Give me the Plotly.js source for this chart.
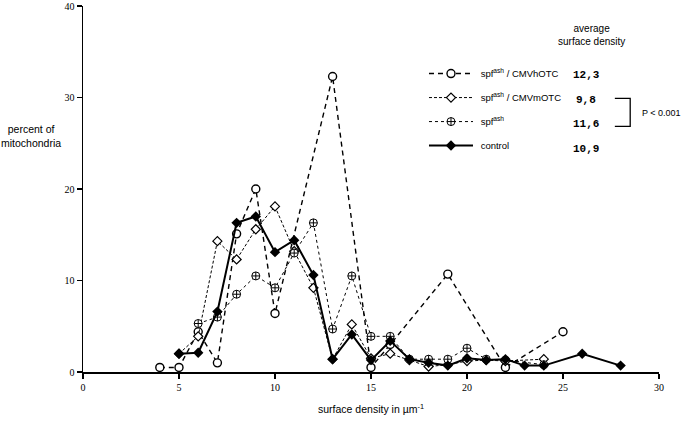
<!DOCTYPE html>
<html>
<head>
<meta charset="utf-8">
<script src="https://cdn.plot.ly/plotly-3.0.1.min.js"></script>
<style>
  body { margin: 0; background: #fff; }
  #chart { width: 685px; height: 421px; }
</style>
</head>
<body>
<div id="chart"></div>
<script>
// spf-ash / CMVhOTC
var hotcX = [4, 5, 6, 7, 8, 9, 10, 13, 15, 16, 19, 22, 25];
var hotcY = [0.5, 0.5, 4.4, 1.0, 15.1, 20.0, 6.4, 32.3, 0.5, 3.0, 10.7, 0.5, 4.4];

// spf-ash / CMVmOTC
var motcX = [5, 6, 7, 8, 9, 10, 11, 12, 13, 14, 15, 16, 17, 18, 19, 20, 21, 22, 24];
var motcY = [2.0, 3.9, 14.3, 12.3, 15.6, 18.1, 13.2, 9.2, 1.4, 5.2, 1.5, 2.0, 1.3, 0.6, 0.8, 1.2, 1.3, 1.2, 1.4];

// spf-ash
var spfX = [6, 7, 8, 9, 10, 11, 12, 13, 14, 15, 16, 17, 18, 19, 20, 21, 22, 24];
var spfY = [5.3, 6.0, 8.5, 10.5, 9.2, 13.0, 16.3, 4.7, 10.5, 3.9, 3.9, 1.4, 1.4, 1.4, 2.6, 1.4, 1.3, 0.8];

// control
var ctrlX = [5, 6, 7, 8, 9, 10, 11, 12, 13, 14, 15, 16, 17, 18, 19, 20, 21, 22, 23, 24, 26, 28];
var ctrlY = [2.0, 2.1, 6.6, 16.3, 17.0, 13.1, 14.4, 10.6, 1.4, 4.1, 1.3, 3.4, 1.4, 1.0, 0.7, 1.5, 1.3, 1.4, 0.7, 0.7, 2.0, 0.7];

var seriesNames = [
  'spf<sup>ash</sup> / CMVhOTC',
  'spf<sup>ash</sup> / CMVmOTC',
  'spf<sup>ash</sup>',
  'control'
];
var averages = ['12,3', '9,8', '11,6', '10,9'];

var trace1 = {
  x: hotcX, y: hotcY,
  mode: 'lines+markers', type: 'scatter',
  name: '&nbsp;' + seriesNames[0], legendgroup: 'a',
  line: { color: 'black', width: 1.4, dash: '5px,4px' },
  marker: { symbol: 'circle', size: 8, color: 'white', line: { color: 'black', width: 1.4 } }
};

var trace2 = {
  x: motcX, y: motcY,
  mode: 'lines+markers', type: 'scatter',
  name: '&nbsp;' + seriesNames[1], legendgroup: 'b',
  line: { color: 'black', width: 1, dash: '3px,2px' },
  marker: { symbol: 'diamond', size: 7, color: 'white', line: { color: 'black', width: 1.2 } }
};

var trace3 = {
  x: spfX, y: spfY,
  mode: 'lines+markers', type: 'scatter',
  name: '&nbsp;' + seriesNames[2], legendgroup: 'c',
  line: { color: 'black', width: 1, dash: 'dot' },
  marker: { symbol: 'circle-cross', size: 8, color: 'white', line: { color: 'black', width: 1 } }
};

var trace4 = {
  x: ctrlX, y: ctrlY,
  mode: 'lines+markers', type: 'scatter',
  name: '&nbsp;' + seriesNames[3], legendgroup: 'd',
  line: { color: 'black', width: 2 },
  marker: { symbol: 'diamond', size: 8, color: 'black' }
};

var data = [trace1, trace2, trace3, trace4];

var rowY = [32.5, 29.7, 27.1, 24.35];
var annotations = averages.map(function (v, i) {
  return {
    x: 26.2, y: rowY[i], xref: 'x', yref: 'y', text: '<b>' + v + '</b>',
    showarrow: false, font: { family: 'Liberation Mono', size: 11, color: 'black' }
  };
});
annotations.push({
  x: 26.5, y: 36.8, xref: 'x', yref: 'y', text: 'average<br>surface density',
  showarrow: false, font: { family: 'Liberation Sans', size: 10, color: 'black' }
});
annotations.push({
  x: 29.0, y: 28.3, xref: 'x', yref: 'y', xanchor: 'left', text: 'P &lt; 0.001',
  showarrow: false, font: { family: 'Liberation Sans', size: 9, color: 'black' }
});
annotations.push({
  x: -0.09, y: 0.645, xref: 'paper', yref: 'paper', xanchor: 'center',
  text: 'percent of<br>mitochondria',
  showarrow: false, font: { family: 'Liberation Sans', size: 10.5, color: 'black' }
});

var layout = {
  width: 685, height: 421,
  margin: { l: 83, r: 26, t: 6, b: 49 },
  paper_bgcolor: 'white', plot_bgcolor: 'white',
  showlegend: true,
  legend: {
    x: 0.592, y: 0.855, xanchor: 'left', yanchor: 'top',
    bgcolor: 'rgba(0,0,0,0)', itemwidth: 44, tracegroupgap: 5,
    font: { family: 'Liberation Sans', size: 9.5, color: 'black' }
  },
  xaxis: {
    range: [0, 30], tickvals: [0, 5, 10, 15, 20, 25, 30],
    showgrid: false, zeroline: false, showline: true, linecolor: 'black', linewidth: 1.5,
    ticks: 'outside', ticklen: 5, tickcolor: 'black', tickwidth: 1.2,
    tickfont: { family: 'Liberation Serif', size: 10, color: 'black' },
    title: { text: 'surface density in µm<sup>-1</sup>', standoff: 14,
             font: { family: 'Liberation Sans', size: 10.5, color: 'black' } }
  },
  yaxis: {
    range: [0, 40], tickvals: [0, 10, 20, 30, 40], ticklabeloverflow: 'allow',
    showgrid: false, zeroline: false, showline: true, linecolor: 'black', linewidth: 1.5,
    ticks: 'outside', ticklen: 5, tickcolor: 'black', tickwidth: 1.2,
    tickfont: { family: 'Liberation Serif', size: 10, color: 'black' }
  },
  annotations: annotations,
  shapes: [{
    type: 'path', xref: 'x', yref: 'y',
    path: 'M27.7,29.9 L28.5,29.9 L28.5,26.85 L27.7,26.85',
    line: { color: 'black', width: 1.3 }
  }]
};

Plotly.newPlot('chart', data, layout, { staticPlot: true });
</script>
</body>
</html>
